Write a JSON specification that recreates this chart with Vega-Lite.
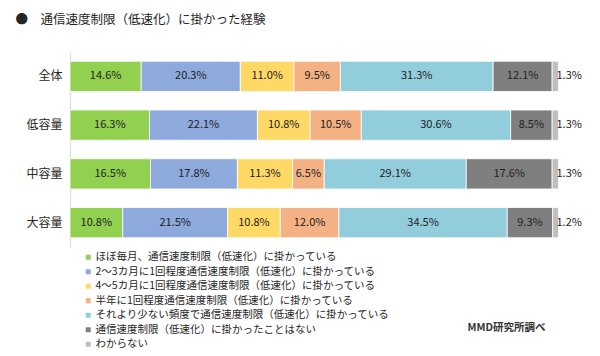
{
  "$schema": "https://vega.github.io/schema/vega-lite/v6.json",
  "autosize": {"type": "none"},
  "width": 488,
  "height": 195,
  "padding": {"left": 70, "top": 52, "right": 42, "bottom": 109},
  "background": "white",
  "config": {
    "font": "Noto Sans CJK JP",
    "view": {"stroke": null}
  },
  "title": {
    "text": "●　通信速度制限（低速化）に掛かった経験",
    "anchor": "start",
    "frame": "group",
    "dx": -54.5,
    "offset": 26,
    "fontSize": 12.5,
    "fontWeight": "normal",
    "color": "#262626",
    "font": "Noto Sans CJK JP"
  },
  "data": {
    "values": [
      {"group": "全体", "order": 1, "cat": "ほぼ毎月、通信速度制限（低速化）に掛かっている", "value": 14.6},
      {"group": "全体", "order": 2, "cat": "2～3カ月に1回程度通信速度制限（低速化）に掛かっている", "value": 20.3},
      {"group": "全体", "order": 3, "cat": "4～5カ月に1回程度通信速度制限（低速化）に掛かっている", "value": 11.0},
      {"group": "全体", "order": 4, "cat": "半年に1回程度通信速度制限（低速化）に掛かっている", "value": 9.5},
      {"group": "全体", "order": 5, "cat": "それより少ない頻度で通信速度制限（低速化）に掛かっている", "value": 31.3},
      {"group": "全体", "order": 6, "cat": "通信速度制限（低速化）に掛かったことはない", "value": 12.1},
      {"group": "全体", "order": 7, "cat": "わからない", "value": 1.3},
      {"group": "低容量", "order": 1, "cat": "ほぼ毎月、通信速度制限（低速化）に掛かっている", "value": 16.3},
      {"group": "低容量", "order": 2, "cat": "2～3カ月に1回程度通信速度制限（低速化）に掛かっている", "value": 22.1},
      {"group": "低容量", "order": 3, "cat": "4～5カ月に1回程度通信速度制限（低速化）に掛かっている", "value": 10.8},
      {"group": "低容量", "order": 4, "cat": "半年に1回程度通信速度制限（低速化）に掛かっている", "value": 10.5},
      {"group": "低容量", "order": 5, "cat": "それより少ない頻度で通信速度制限（低速化）に掛かっている", "value": 30.6},
      {"group": "低容量", "order": 6, "cat": "通信速度制限（低速化）に掛かったことはない", "value": 8.5},
      {"group": "低容量", "order": 7, "cat": "わからない", "value": 1.3},
      {"group": "中容量", "order": 1, "cat": "ほぼ毎月、通信速度制限（低速化）に掛かっている", "value": 16.5},
      {"group": "中容量", "order": 2, "cat": "2～3カ月に1回程度通信速度制限（低速化）に掛かっている", "value": 17.8},
      {"group": "中容量", "order": 3, "cat": "4～5カ月に1回程度通信速度制限（低速化）に掛かっている", "value": 11.3},
      {"group": "中容量", "order": 4, "cat": "半年に1回程度通信速度制限（低速化）に掛かっている", "value": 6.5},
      {"group": "中容量", "order": 5, "cat": "それより少ない頻度で通信速度制限（低速化）に掛かっている", "value": 29.1},
      {"group": "中容量", "order": 6, "cat": "通信速度制限（低速化）に掛かったことはない", "value": 17.6},
      {"group": "中容量", "order": 7, "cat": "わからない", "value": 1.3},
      {"group": "大容量", "order": 1, "cat": "ほぼ毎月、通信速度制限（低速化）に掛かっている", "value": 10.8},
      {"group": "大容量", "order": 2, "cat": "2～3カ月に1回程度通信速度制限（低速化）に掛かっている", "value": 21.5},
      {"group": "大容量", "order": 3, "cat": "4～5カ月に1回程度通信速度制限（低速化）に掛かっている", "value": 10.8},
      {"group": "大容量", "order": 4, "cat": "半年に1回程度通信速度制限（低速化）に掛かっている", "value": 12.0},
      {"group": "大容量", "order": 5, "cat": "それより少ない頻度で通信速度制限（低速化）に掛かっている", "value": 34.5},
      {"group": "大容量", "order": 6, "cat": "通信速度制限（低速化）に掛かったことはない", "value": 9.3},
      {"group": "大容量", "order": 7, "cat": "わからない", "value": 1.2}
    ]
  },
  "transform": [
    {"stack": "value", "groupby": ["group"], "sort": [{"field": "order", "order": "ascending"}], "as": ["x0", "x1"]},
    {"calculate": "(datum.x0 + datum.x1) / 2", "as": "mid"},
    {"calculate": "format(datum.value, '.1f') + '%'", "as": "label"}
  ],
  "encoding": {
    "y": {
      "field": "group",
      "type": "nominal",
      "sort": ["全体", "低容量", "中容量", "大容量"],
      "scale": {"paddingInner": 0.38, "paddingOuter": 0.19},
      "axis": {
        "title": null,
        "ticks": false,
        "domainColor": "#d9d9d9",
        "domainWidth": 1,
        "labelFontSize": 12,
        "labelColor": "#262626",
        "labelPadding": 8,
        "labelFont": "Noto Sans CJK JP"
      }
    }
  },
  "layer": [
    {
      "mark": {"type": "bar", "stroke": "white", "strokeWidth": 0.8},
      "encoding": {
        "x": {
          "field": "x0",
          "type": "quantitative",
          "scale": {"domain": [0, 100], "nice": false},
          "axis": {
            "orient": "bottom",
            "domain": false,
            "ticks": false,
            "labels": false,
            "grid": false,
            "title": "MMD研究所調べ",
            "titleFontSize": 10.5,
            "titleFontWeight": "bold",
            "titleColor": "#333333",
            "titleFont": "Noto Sans CJK JP",
            "titleAlign": "right",
            "titleAnchor": "end",
            "titleBaseline": "middle",
            "titleX": 475,
            "titleY": 80
          }
        },
        "x2": {"field": "x1"},
        "color": {
          "field": "cat",
          "type": "nominal",
          "scale": {
            "domain": [
              "ほぼ毎月、通信速度制限（低速化）に掛かっている",
              "2～3カ月に1回程度通信速度制限（低速化）に掛かっている",
              "4～5カ月に1回程度通信速度制限（低速化）に掛かっている",
              "半年に1回程度通信速度制限（低速化）に掛かっている",
              "それより少ない頻度で通信速度制限（低速化）に掛かっている",
              "通信速度制限（低速化）に掛かったことはない",
              "わからない"
            ],
            "range": ["#92D050", "#8EA9DB", "#FFD966", "#F4B183", "#92CDDC", "#7F7F7F", "#BFBFBF"]
          },
          "legend": {
            "title": null,
            "orient": "none",
            "legendX": 13,
            "legendY": 200,
            "direction": "vertical",
            "symbolType": "square",
            "symbolSize": 25,
            "symbolStrokeWidth": 0,
            "labelFontSize": 10.5,
            "labelColor": "#262626",
            "labelFont": "Noto Sans CJK JP",
            "labelOffset": 2,
            "labelLimit": 400,
            "rowPadding": 3.5,
            "padding": 0
          }
        },
        "order": {"field": "order"}
      }
    },
    {
      "transform": [{"filter": "datum.order < 7"}],
      "mark": {"type": "text", "fontSize": 11, "color": "#222222", "align": "center", "baseline": "middle", "font": "Noto Sans CJK JP"},
      "encoding": {
        "x": {"field": "mid", "type": "quantitative"},
        "text": {"field": "label", "type": "nominal"},
        "detail": {"field": "order"}
      }
    },
    {
      "transform": [{"filter": "datum.order == 7"}],
      "mark": {"type": "text", "fontSize": 11, "color": "#222222", "align": "left", "baseline": "middle", "dx": -2, "font": "Noto Sans CJK JP"},
      "encoding": {
        "x": {"field": "x1", "type": "quantitative"},
        "text": {"field": "label", "type": "nominal"}
      }
    }
  ]
}
